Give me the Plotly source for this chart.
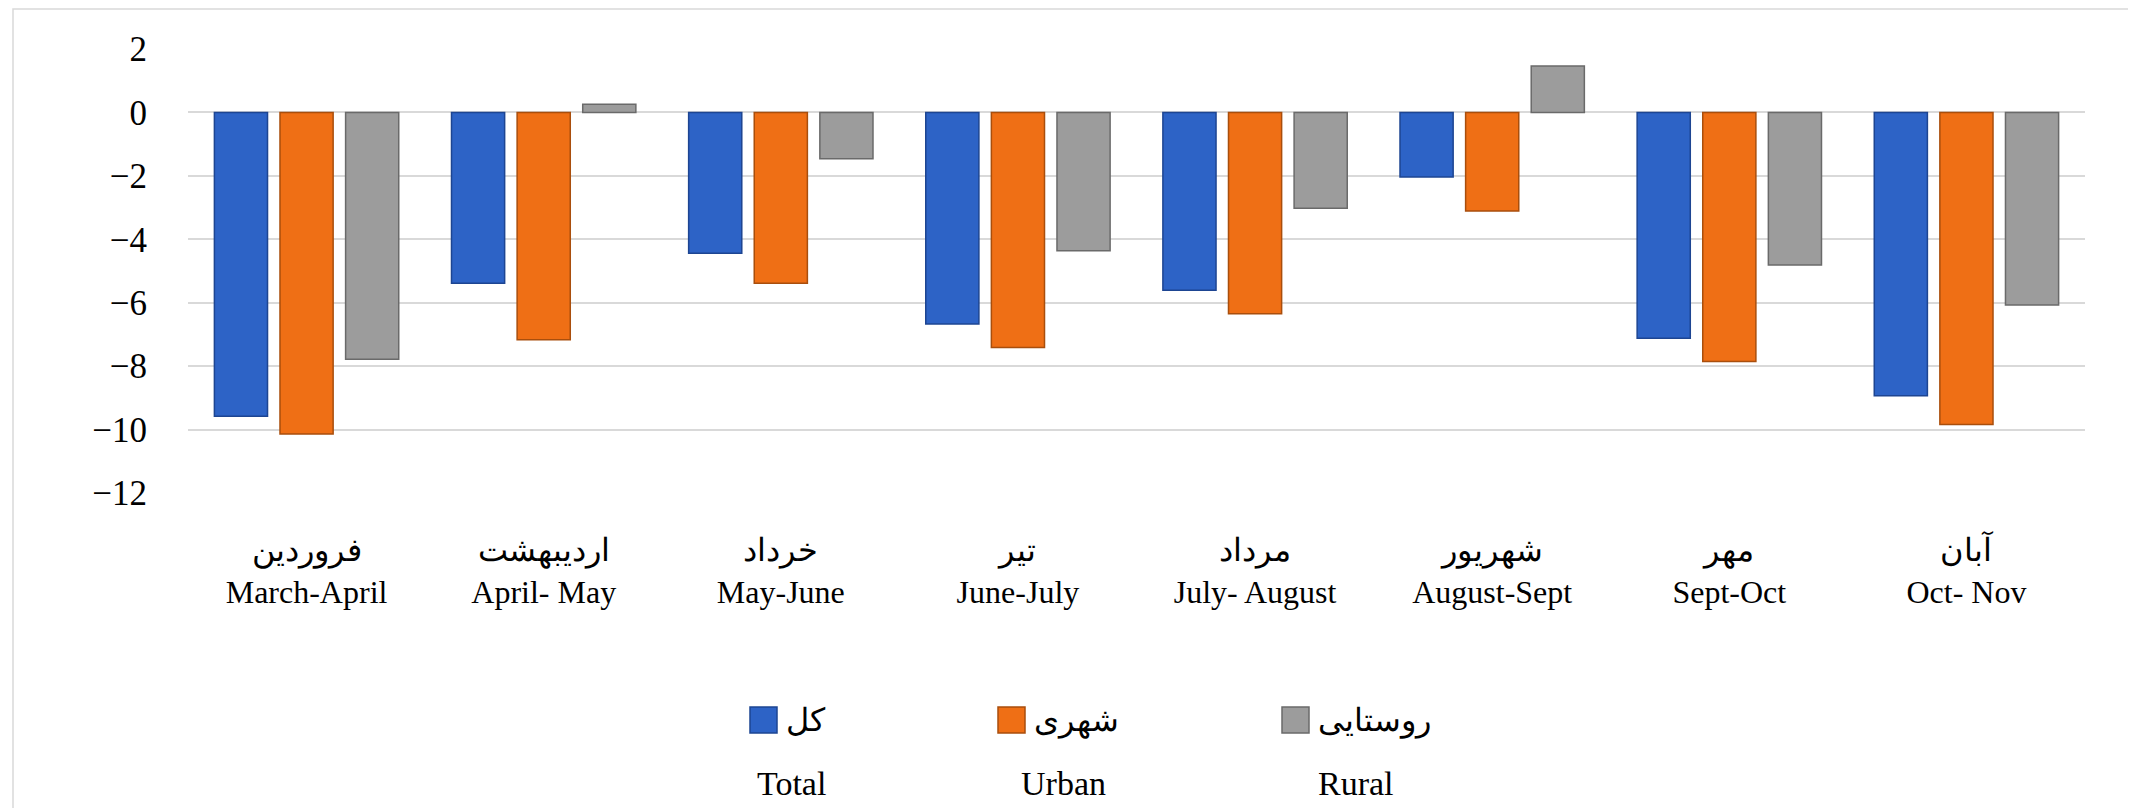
import plotly.graph_objects as go

# months (Persian calendar) and their approximate Gregorian span
months_fa = ["فروردین", "اردیبهشت", "خرداد", "تیر", "مرداد", "شهریور", "مهر", "آبان"]
months_en = ["March-April", "April- May", "May-June", "June-July",
             "July- August", "August-Sept", "Sept-Oct", "Oct- Nov"]

total = [-9.58, -5.39, -4.44, -6.67, -5.61, -2.04, -7.12, -8.93]
urban = [-10.14, -7.17, -5.39, -7.41, -6.35, -3.11, -7.85, -9.84]
rural = [-7.78, 0.26, -1.46, -4.36, -3.02, 1.46, -4.81, -6.07]

series_fa = ["کل", "شهری", "روستایی"]
series_en = ["Total", "Urban", "Rural"]

W, H = 2136, 808
OFF = 8  # the page body adds an 8px margin around the figure
L, R, T, B = 180, 59, 40, 322
PW, PH = W - L - R, H - T - B

SERIF = "Liberation Serif, Times New Roman, serif"

fill = ["#2d63c6", "#ef6f15", "#9c9c9c"]
edge = ["#1d4592", "#a94e0c", "#6a6a6a"]

labels = [f"{fa}<br>{en}" for fa, en in zip(months_fa, months_en)]


def px_x(p):
    # page pixel -> paper fraction
    return (p - OFF - L) / PW


def px_y(p):
    return 1 - (p - OFF - T) / PH


fig = go.Figure()
for i, vals in enumerate([total, urban, rural]):
    fig.add_trace(go.Bar(
        x=labels,
        y=vals,
        name=series_fa[i],
        marker=dict(color=fill[i], line=dict(color=edge[i], width=1.5)),
        showlegend=False
    ))

fig.update_layout(
    width=W, height=H,
    margin=dict(l=L, r=R, t=T, b=B),
    paper_bgcolor="white",
    plot_bgcolor="white",
    barmode="group",
    bargap=0.17,
    bargroupgap=0.19,
    font=dict(family=SERIF, color="black"),
)

fig.update_xaxes(
    showgrid=False,
    showline=False,
    zeroline=False,
    tickfont=dict(size=32, family=SERIF),
    ticklabelstandoff=34,
)

fig.update_yaxes(
    range=[-12.03, 2.03],
    tickvals=list(range(-12, 3, 2)),
    showgrid=True,
    gridcolor="#d9d9d9",
    gridwidth=1.5,
    zeroline=False,
    showline=False,
    tickfont=dict(size=35, family=SERIF),
    ticklabelstandoff=40,
)

# chart area border (only top and left visible in the picture)
fig.add_shape(type="rect", xref="paper", yref="paper",
              x0=px_x(13), x1=px_x(W + 30), y0=px_y(9), y1=px_y(H + 30),
              line=dict(color="#d9d9d9", width=1.5), fillcolor="rgba(0,0,0,0)",
              layer="below")

# hand-made legend: coloured box, Persian name, English name underneath
box_left = [750, 998, 1282]
en_center = [791, 1063, 1356]
for i in range(3):
    fig.add_shape(type="rect", xref="paper", yref="paper",
                  x0=px_x(box_left[i]), x1=px_x(box_left[i] + 27),
                  y0=px_y(707), y1=px_y(733),
                  fillcolor=fill[i], line=dict(color=edge[i], width=1.5))
    fig.add_annotation(xref="paper", yref="paper",
                       x=px_x(box_left[i] + 34), y=px_y(720),
                       xanchor="left", yanchor="middle",
                       text=series_fa[i], showarrow=False,
                       font=dict(size=32, family=SERIF))
    fig.add_annotation(xref="paper", yref="paper",
                       x=px_x(en_center[i]), y=px_y(783),
                       xanchor="center", yanchor="middle",
                       text=series_en[i], showarrow=False,
                       font=dict(size=34, family=SERIF))

fig.write_html("out.html")
